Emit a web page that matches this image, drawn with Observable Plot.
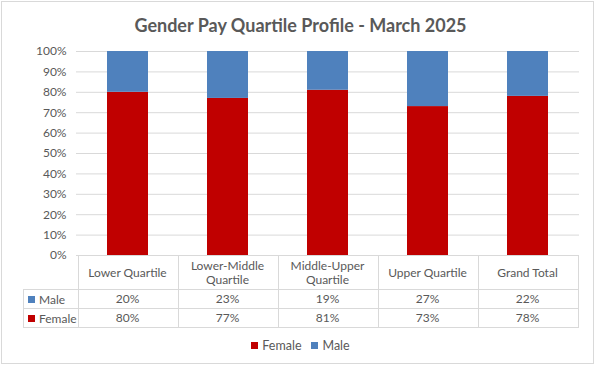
<!DOCTYPE html>
<html><head><meta charset="utf-8">
<script src="https://cdn.jsdelivr.net/npm/d3@7"></script>
<script src="https://cdn.jsdelivr.net/npm/@observablehq/plot@0.6"></script>
<style>
body{margin:0;background:#fff;font-family:Lato,"Open Sans",sans-serif;color:#595959;}
#wrap{position:relative;width:603px;height:367px;overflow:hidden;background:#fff;}
#frame{position:absolute;left:1px;top:1px;width:593px;height:363px;border:1px solid #d9d9d9;box-sizing:border-box;}
#title{position:absolute;left:4px;width:593px;top:14px;text-align:center;font-weight:bold;font-size:18px;color:#595959;}
#chart{position:absolute;left:0;top:0;}
.ln{position:absolute;background:#d9d9d9;}
.cell{position:absolute;display:flex;align-items:center;justify-content:center;text-align:center;font-size:12px;line-height:14px;color:#595959;}
.rowlab{position:absolute;display:flex;align-items:center;font-size:12px;color:#595959;}
.sw{display:inline-block;width:7px;height:7px;margin-right:4px;}
#legend{position:absolute;left:4px;width:593px;top:338px;display:flex;justify-content:center;font-size:12.5px;color:#595959;}
#legend span.item{display:flex;align-items:center;margin:0 5px;}
</style>
</head><body>
<div id="wrap"><div id="frame"></div><div id="chart"></div><div id="table"></div><div id="title">Gender Pay Quartile Profile - March 2025</div><div id="legend"></div></div>
<script>
const categories = ["Lower Quartile","Lower-Middle Quartile","Middle-Upper Quartile","Upper Quartile","Grand Total"];
const male = [20,23,19,27,22];
const female = [80,77,81,73,78];
const series = ["Female","Male"];
const colors = ["#C00000","#4F81BD"];
const yTicks = [0,10,20,30,40,50,60,70,80,90,100];
const tableRows = ["Male","Female"];

const rows = categories.flatMap((c,i)=>[
  {cat:c, sex:"Female", v:female[i]},
  {cat:c, sex:"Male", v:male[i]}
]);

const chart = Plot.plot({
  width:603, height:263,
  marginLeft:76, marginRight:24, marginTop:51, marginBottom:8,
  style:{background:"transparent", fontFamily:"Lato, 'Open Sans', sans-serif"},
  x:{domain:categories, type:"band", paddingInner:0.59, paddingOuter:0.295, axis:null},
  y:{domain:[0,100]},
  color:{domain:series, range:colors},
  marks:[
    Plot.gridY(yTicks,{stroke:"#d9d9d9", strokeOpacity:1, strokeWidth:1}),
    Plot.axisY(yTicks,{tickSize:0, tickPadding:10, tickFormat:d=>d+"%", label:null, fontSize:12, color:"#595959"}),
    Plot.barY(rows,{x:"cat", y:"v", fill:"sex"})
  ]
});
document.getElementById("chart").appendChild(chart);

// data table aligned to the band scale
const xs = chart.scale("x");
const step = xs.step, bw = xs.bandwidth;
const colLeft = c => xs.apply(c) - (step - bw)/2;
const x0 = colLeft(categories[0]);
const x1 = colLeft(categories[categories.length-1]) + step;
const labLeft = 23;
const yTop = chart.scale("y").apply(0);
const rowY = [yTop, yTop+34, yTop+53, yTop+72];
const tbl = document.getElementById("table");
function line(l,t,w,h){const d=document.createElement("div");d.className="ln";Object.assign(d.style,{left:l+"px",top:t+"px",width:w+"px",height:h+"px"});tbl.appendChild(d);}
line(x0, rowY[0], x1-x0+1, 1);
for (let r=1;r<rowY.length;r++) line(labLeft, rowY[r], x1-labLeft+1, 1);
line(labLeft, rowY[1], 1, rowY[3]-rowY[1]+1);
for (let i=0;i<=categories.length;i++) line(x0+i*step, rowY[0], 1, rowY[3]-rowY[0]+1);
function cell(text,l,t,w,h,cls){const d=document.createElement("div");d.className=cls;d.textContent=text;Object.assign(d.style,{left:l+"px",top:t+"px",width:w+"px",height:h+"px"});tbl.appendChild(d);return d;}
categories.forEach((c,i)=>{
  const l = colLeft(c);
  cell(c, l+6, rowY[0]+1, step-12, rowY[1]-rowY[0]-1, "cell");
  cell(male[i]+"%", l, rowY[1]+1, step, rowY[2]-rowY[1]-1, "cell");
  cell(female[i]+"%", l, rowY[2]+1, step, rowY[3]-rowY[2]-1, "cell");
});
tableRows.forEach((name,r)=>{
  const d = document.createElement("div");
  d.className="rowlab";
  Object.assign(d.style,{left:(labLeft+5)+"px",top:(rowY[r+1]+1)+"px",height:(rowY[r+2]-rowY[r+1]-1)+"px"});
  const sw=document.createElement("span");sw.className="sw";sw.style.background=colors[series.indexOf(name)];
  d.appendChild(sw);d.appendChild(document.createTextNode(name));
  tbl.appendChild(d);
});
// legend
const lg = document.getElementById("legend");
series.forEach((s,i)=>{
  const it=document.createElement("span");it.className="item";
  const sw=document.createElement("span");sw.className="sw";sw.style.background=colors[i];
  it.appendChild(sw);it.appendChild(document.createTextNode(s));lg.appendChild(it);
});
</script>
</body></html>
